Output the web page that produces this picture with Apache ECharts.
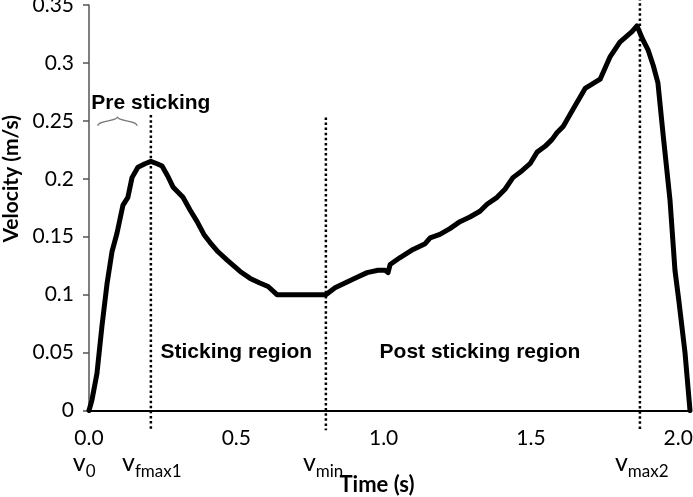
<!DOCTYPE html>
<html>
<head>
<meta charset="utf-8">
<script src="https://cdn.jsdelivr.net/npm/echarts@6/dist/echarts.min.js"></script>
<style>
html,body{margin:0;padding:0;background:#fff;}
#chart{width:693px;height:497px;}
</style>
</head>
<body>
<div id="chart"></div>
<script>
// Time (s) and velocity (m/s)
var time = [0, 0.010, 0.027, 0.044, 0.061, 0.078, 0.095, 0.115, 0.132, 0.146, 0.166, 0.190, 0.210, 0.231, 0.248,
  0.268, 0.285, 0.319, 0.343, 0.367, 0.390, 0.411, 0.438, 0.468, 0.513, 0.547, 0.580, 0.608, 0.638, 0.716, 0.804,
  0.835, 0.876, 0.910, 0.944, 0.981, 1.005, 1.015, 1.022, 1.056, 1.100, 1.141, 1.158, 1.191, 1.225, 1.259, 1.293,
  1.327, 1.351, 1.385, 1.412, 1.439, 1.470, 1.497, 1.521, 1.548, 1.572, 1.589, 1.609, 1.643, 1.684, 1.735, 1.768,
  1.802, 1.843, 1.860, 1.880, 1.898, 1.915, 1.931, 1.948, 1.972, 1.989, 2.002, 2.023, 2.040];
var velocity = [0, 0.009, 0.032, 0.073, 0.109, 0.137, 0.153, 0.177, 0.184, 0.201, 0.210, 0.213, 0.215, 0.213, 0.211,
  0.202, 0.193, 0.184, 0.173, 0.163, 0.152, 0.145, 0.137, 0.130, 0.120, 0.114, 0.110, 0.107, 0.100, 0.100, 0.100,
  0.106, 0.111, 0.115, 0.119, 0.121, 0.121, 0.119, 0.126, 0.132, 0.139, 0.144, 0.149, 0.152, 0.157, 0.163, 0.167,
  0.172, 0.178, 0.184, 0.191, 0.201, 0.207, 0.213, 0.223, 0.228, 0.234, 0.240, 0.245, 0.260, 0.278, 0.286, 0.305,
  0.318, 0.327, 0.332, 0.320, 0.311, 0.298, 0.283, 0.240, 0.182, 0.121, 0.095, 0.050, 0];

// Event markers (time, s) and the vertical extent of their dotted lines (m/s)
var markerTimes = [0.210, 0.804, 1.870];
var markerTops = [0.255, 0.253, 0.356];
var markerBottom = -0.017;
var markerNames = ['0', 'fmax1', 'min', 'max2'];
var markerLabelTimes = [-0.055, 0.112, 0.726, 1.785];

// Region labels
var regionNames = ['Pre sticking', 'Sticking region', 'Post sticking region'];
var regionTimes = [0.21, 0.50, 1.327];
var regionValues = [0.2655, 0.0505, 0.0505];

var xTicks = {min: 0, max: 2.04, interval: 0.5};
var yTicks = {min: 0, max: 0.35, interval: 0.05};

var chart = echarts.init(document.getElementById('chart'));

var curve = time.map(function (t, i) { return [t, velocity[i]]; });
var series = [{
  type: 'line', data: curve, symbol: 'none', smooth: false,
  lineStyle: {color: '#000', width: 5, join: 'round', cap: 'round'},
  z: 3, silent: true
}];
markerTimes.forEach(function (t, i) {
  series.push({
    type: 'line', data: [[t, markerTops[i]], [t, markerBottom]], symbol: 'none', clip: false,
    lineStyle: {color: '#000', width: 2.5, type: [2.5, 2.6]}, z: 2, silent: true
  });
});

chart.setOption({
  animation: false,
  grid: {left: 89, right: 3, top: 5, bottom: 86.5, containLabel: false, outerBoundsMode: 'none'},
  xAxis: {
    type: 'value', min: xTicks.min, max: xTicks.max, interval: xTicks.interval,
    axisLine: {lineStyle: {color: '#000', width: 2}},
    axisTick: {show: false}, splitLine: {show: false},
    axisLabel: {
      formatter: function (v) { return (Math.abs(v / 0.5 - Math.round(v / 0.5)) < 1e-6) ? v.toFixed(1) : ''; },
      fontFamily: 'Lato', fontSize: 21, color: '#000', margin: 17
    },
    name: 'Time (s)', nameLocation: 'middle', nameGap: 63,
    nameTextStyle: {fontFamily: 'Lato', fontWeight: 'bold', fontSize: 22, color: '#000', padding: [0, 25, 0, 0]}
  },
  yAxis: {
    type: 'value', min: yTicks.min, max: yTicks.max, interval: yTicks.interval,
    axisLine: {show: true, lineStyle: {color: '#555', width: 1.5}},
    axisTick: {show: true, length: 6, lineStyle: {color: '#555', width: 1.5}},
    splitLine: {show: false},
    axisLabel: {fontFamily: 'Lato', fontSize: 21, color: '#000', margin: 15},
    name: 'Velocity (m/s)', nameLocation: 'middle', nameRotate: 90, nameGap: 67,
    nameTextStyle: {fontFamily: 'Lato', fontWeight: 'bold', fontSize: 21, color: '#000', padding: [0, 0, 0, 58]}
  },
  series: series
});

function px(t, v) { return chart.convertToPixel({gridIndex: 0}, [t, v]); }

var graphics = [];
regionNames.forEach(function (name, i) {
  var p = px(regionTimes[i], regionValues[i]);
  graphics.push({
    type: 'text', x: p[0], y: p[1], silent: true,
    style: {text: name, fontFamily: '"Liberation Sans", Arial', fontWeight: 'bold', fontSize: 21,
      fill: '#000', align: 'center', verticalAlign: 'middle'}
  });
});
markerNames.forEach(function (sub, i) {
  var p = px(markerLabelTimes[i], -0.045);
  graphics.push({
    type: 'text', x: p[0], y: p[1], silent: true,
    style: {
      text: '{v|v}{s|' + sub + '}', align: 'left', verticalAlign: 'middle',
      rich: {
        v: {fontFamily: 'Lato', fontSize: 25, fill: '#000', lineHeight: 26, verticalAlign: 'bottom'},
        s: {fontFamily: 'Lato', fontSize: 17, fill: '#000', lineHeight: 17, padding: [0, 0, -4, 0], verticalAlign: 'bottom'}
      }
    }
  });
});
// brace under "Pre sticking"
var bl = px(0.03, 0.25), bm = px(0.0965, 0.25), br = px(0.163, 0.25);
var by = bl[1];
graphics.push({
  type: 'bezierCurve', silent: true,
  shape: {x1: bl[0], y1: by + 5, cpx1: bl[0], cpy1: by - 1, cpx2: bm[0], cpy2: by + 1, x2: bm[0], y2: by - 4},
  style: {stroke: '#777', lineWidth: 1.3, fill: null}
});
graphics.push({
  type: 'bezierCurve', silent: true,
  shape: {x1: bm[0], y1: by - 4, cpx1: bm[0], cpy1: by + 1, cpx2: br[0], cpy2: by - 1, x2: br[0], y2: by + 5},
  style: {stroke: '#777', lineWidth: 1.3, fill: null}
});
chart.setOption({graphic: graphics});
</script>
</body>
</html>
